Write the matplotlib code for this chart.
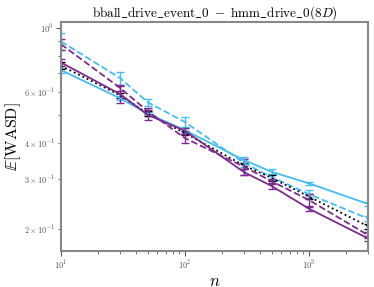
import matplotlib
matplotlib.use("Agg")
import matplotlib.pyplot as plt

plt.rcParams["font.family"] = "serif"
plt.rcParams["font.serif"] = ["cmr10", "DejaVu Serif"]
plt.rcParams["mathtext.fontset"] = "cm"
plt.rcParams["axes.formatter.use_mathtext"] = True

# sample sizes
n = [10, 30, 50, 100, 300, 500, 1000, 3000]

# E[WASD] per method
lb_solid = [0.715, 0.571, 0.505, 0.442, 0.348, 0.317, 0.289, 0.245]
lb_solid_err = [0.015, 0.01, 0.008, 0.008, 0.008, 0.006, 0.004, 0.003]
lb_dash = [0.90, 0.671, 0.553, 0.472, 0.340, 0.304, 0.265, 0.218]
lb_dash_err = [0.06, 0.035, 0.015, 0.02, 0.01, 0.008, 0.008, 0.005]
black_dot = [0.74, 0.585, 0.505, 0.432, 0.333, 0.302, 0.260, 0.205]
black_dot_err = [0.02, 0.012, 0.01, 0.008, 0.008, 0.008, 0.006, 0.004]
p_dash = [0.88, 0.62, 0.515, 0.415, 0.330, 0.294, 0.253, 0.191]
p_dash_err = [0.04, 0.015, 0.012, 0.015, 0.02, 0.006, 0.012, 0.004]
p_solid = [0.76, 0.59, 0.50, 0.44, 0.316, 0.283, 0.236, 0.186]
p_solid_err = [0.02, 0.04, 0.02, 0.01, 0.008, 0.006, 0.004, 0.004]

LB = "#45bdf0"
PU = "#7e2a8e"

fig = plt.figure(figsize=(3.74, 2.87), dpi=100)
ax = fig.add_axes([0.163, 0.125, 0.821, 0.798])

kw = dict(capsize=3, elinewidth=1.0, capthick=1.0, linewidth=1.3)
ax.errorbar(n, lb_solid, yerr=lb_solid_err, color=LB, linestyle="-", **kw)
ax.errorbar(n, lb_dash, yerr=lb_dash_err, color=LB, linestyle="--", **kw)
ax.errorbar(n, black_dot, yerr=black_dot_err, color="black", linestyle=":", **kw)
ax.errorbar(n, p_dash, yerr=p_dash_err, color=PU, linestyle="--", **kw)
ax.errorbar(n, p_solid, yerr=p_solid_err, color=PU, linestyle="-", **kw)

ax.set_xscale("log")
ax.set_yscale("log")
ax.set_xlim(10, 3000)
ax.set_ylim(0.168, 1.05)

ax.set_title(r"$\mathrm{bball\_drive\_event\_0}\ -\ \mathrm{hmm\_drive\_0}(8D)$",
             fontsize=9.5, pad=4)
ax.set_xlabel("$n$", fontsize=12, labelpad=1)
ax.set_ylabel(r"$\mathbb{E}[\mathrm{WASD}]$", fontsize=11.5, labelpad=1)

ax.tick_params(which="both", labelsize=6, colors="#555555", pad=2)
for s in ax.spines.values():
    s.set_color("#888888")
    s.set_linewidth(1.5)

fig.savefig("out.png", dpi=100)
